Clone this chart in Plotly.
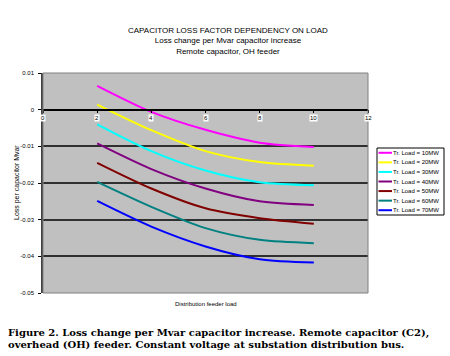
import plotly.graph_objects as go

# Data
feeder_load = [2, 4, 6, 8, 10]
series_names = ["Tr. Load = 10MW", "Tr. Load = 20MW", "Tr. Load = 30MW", "Tr. Load = 40MW",
                "Tr. Load = 50MW", "Tr. Load = 60MW", "Tr. Load = 70MW"]
load_10mw = [0.0065, -0.0006, -0.0055, -0.0090, -0.0102]
load_20mw = [0.0014, -0.0056, -0.0113, -0.0143, -0.0153]
load_30mw = [-0.0040, -0.0113, -0.0166, -0.0198, -0.0206]
load_40mw = [-0.0092, -0.0162, -0.0215, -0.0250, -0.0260]
load_50mw = [-0.0145, -0.0215, -0.0269, -0.0296, -0.0311]
load_60mw = [-0.0197, -0.0265, -0.0323, -0.0355, -0.0364]
load_70mw = [-0.0249, -0.0319, -0.0373, -0.0408, -0.0417]
x_ticks = [0, 2, 4, 6, 8, 10, 12]
x_tick_labels = ["0", "2", "4", "6", "8", "10", "12"]
y_ticks = [0.01, 0, -0.01, -0.02, -0.03, -0.04, -0.05]
y_tick_labels = ["0.01", "0", "-0.01", "-0.02", "-0.03", "-0.04", "-0.05"]

colors = ["#FF00FF", "#FFFF00", "#00FFFF", "#800080", "#800000", "#008080", "#0000FF"]
all_series = [load_10mw, load_20mw, load_30mw, load_40mw, load_50mw, load_60mw, load_70mw]

W, H = 450, 356
ML, MR, MT, MB = 43, 82, 73, 63
PW, PH = W - ML - MR, H - MT - MB


def px(xp):  # pixel x -> paper x
    return (xp - ML) / PW


def py(yp):  # pixel y -> paper y
    return (H - MB - yp) / PH


SANS = "Liberation Sans, Arial, sans-serif"

fig = go.Figure()
for name, vals, col in zip(series_names, all_series, colors):
    fig.add_trace(go.Scatter(x=feeder_load, y=vals, mode="lines", name=name, showlegend=False,
                             line=dict(color=col, width=2, shape="spline", smoothing=0.8)))

y_min, y_max = -0.05, 0.01
fig.update_layout(
    width=W, height=H,
    margin=dict(l=ML, r=MR, t=MT, b=MB, autoexpand=False),
    paper_bgcolor="white",
    plot_bgcolor="#C0C0C0",
    font=dict(family=SANS, color="black"),
    showlegend=False,
    xaxis=dict(range=[0, 12], tickvals=x_ticks, anchor="free",
               position=(0 - y_min) / (y_max - y_min),
               showgrid=False, zeroline=False, showline=True, linecolor="black", linewidth=1.5,
               ticks="outside", ticklen=3, tickcolor="black", showticklabels=False),
    yaxis=dict(range=[y_min, y_max], tickvals=y_ticks, ticktext=y_tick_labels,
               domain=[0, 1],
               showgrid=True, gridcolor="#303030", gridwidth=1.5, zeroline=False,
               showline=True, linecolor="#404040", linewidth=1.5,
               ticks="outside", ticklen=3, tickcolor="black", ticklabelstandoff=3,
               tickfont=dict(size=6, family=SANS)),
)

# plot frame
fig.add_shape(type="rect", xref="paper", yref="paper", x0=0, x1=1, y0=0, y1=1,
              line=dict(color="#808080", width=1), layer="above")

# x tick labels on the zero line, with white boxes
for xv, lab in zip(x_ticks, x_tick_labels):
    fig.add_annotation(x=xv, y=0, xref="x", yref="y", text=lab, showarrow=False,
                       yanchor="top", yshift=-4, bgcolor="white", borderpad=0,
                       font=dict(size=6, family=SANS))

# legend (drawn manually to match the compact original)
leg_left, leg_top, leg_right, leg_bottom = 377, 148, 444, 215
fig.add_shape(type="rect", xref="paper", yref="paper", x0=px(leg_left), x1=px(leg_right),
              y0=py(leg_bottom), y1=py(leg_top), line=dict(color="black", width=1),
              fillcolor="white")
row_h = (leg_bottom - leg_top) / len(series_names)
for i, (name, col) in enumerate(zip(series_names, colors)):
    yc = leg_top + row_h * (i + 0.5)
    fig.add_shape(type="line", xref="paper", yref="paper", x0=px(378.5), x1=px(392),
                  y0=py(yc), y1=py(yc), line=dict(color=col, width=2))
    fig.add_annotation(x=px(392), y=py(yc), xref="paper", yref="paper", text=name,
                       showarrow=False, xanchor="left", yanchor="middle", borderpad=0,
                       font=dict(size=6, family=SANS))

# titles
fig.add_annotation(text="CAPACITOR LOSS FACTOR DEPENDENCY ON LOAD<br>Loss change per Mvar capacitor increase<br>Remote capacitor, OH feeder",
                   xref="paper", yref="paper", x=px(228), y=py(24), xanchor="center", yanchor="top",
                   showarrow=False, font=dict(size=8, family=SANS))
fig.add_annotation(text="Loss per capacitor Mvar", xref="paper", yref="paper", x=px(17), y=py(183),
                   textangle=-90, showarrow=False, xanchor="center", yanchor="middle",
                   font=dict(size=7, family=SANS))
fig.add_annotation(text="Distribution feeder load", xref="paper", yref="paper", x=px(206), y=py(304),
                   yanchor="middle", showarrow=False, font=dict(size=6, family=SANS))
fig.add_annotation(text="<b>Figure 2. Loss change per Mvar capacitor increase. Remote capacitor (C2),</b>",
                   xref="paper", yref="paper", x=px(6), y=py(333), xanchor="left", yanchor="middle",
                   showarrow=False, font=dict(size=10, family="DejaVu Serif, serif"))
fig.add_annotation(text="<b>overhead (OH) feeder. Constant voltage at substation distribution bus.</b>",
                   xref="paper", yref="paper", x=px(6), y=py(344), xanchor="left", yanchor="middle",
                   showarrow=False, font=dict(size=10, family="DejaVu Serif, serif"))

fig.write_html("out.html", config={"displayModeBar": False},
               post_script="document.body.style.margin='0';")
